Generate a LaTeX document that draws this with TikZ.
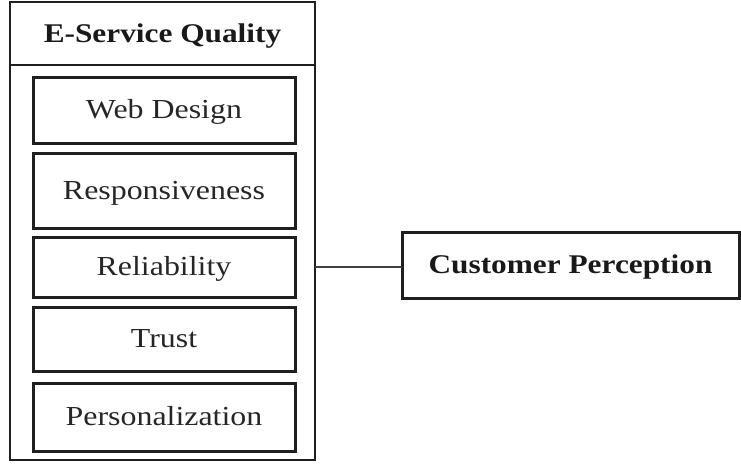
\documentclass[tikz,border=0pt]{standalone}
\usepackage{fontspec}
\setmainfont{Liberation Serif}[FakeStretch=1.16]
\begin{document}
\begin{tikzpicture}[x=1pt,y=-1pt,
  frame/.style={draw=black!88, line width=2.6pt, inner sep=0pt, outer sep=0pt, text height=19pt, text depth=1.5pt},
  itembox/.style={draw=black!88, line width=3pt, inner sep=0pt, outer sep=0pt, minimum width=262pt,
     text height=19pt, text depth=2pt,
     font=\fontsize{27.5}{30}\selectfont, text=black!85},
  conn/.style={draw=black!75, line width=1.4pt}]
\useasboundingbox (0,0) rectangle (741,467);
\node[frame, minimum width=305pt, minimum height=395pt] (body) at (162.5,262.5) {};
\node[frame, minimum width=305pt, minimum height=63pt, font=\fontsize{27}{30}\selectfont\bfseries, text=black!90] (title) at (162.5,33.5) {E-Service Quality};
\node[itembox, minimum height=66pt] (web) at (164,110) {Web Design};
\node[itembox, minimum height=75pt] (resp) at (164,190.5) {Responsiveness};
\node[itembox, minimum height=60pt] (rel) at (164,267) {Reliability};
\node[itembox, minimum height=64pt] (trust) at (164,339) {Trust};
\node[itembox, minimum height=68pt] (pers) at (164,417) {Personalization};
\node[frame, line width=3pt, minimum width=337pt, minimum height=66pt, font=\fontsize{27}{30}\selectfont\bfseries, text=black!90] (cp) at (570.5,265) {Customer Perception};
\draw[conn] ([yshift=-2pt]cp.west) -- ([yshift=-2pt]cp.west -| body.east);
\end{tikzpicture}
\end{document}
